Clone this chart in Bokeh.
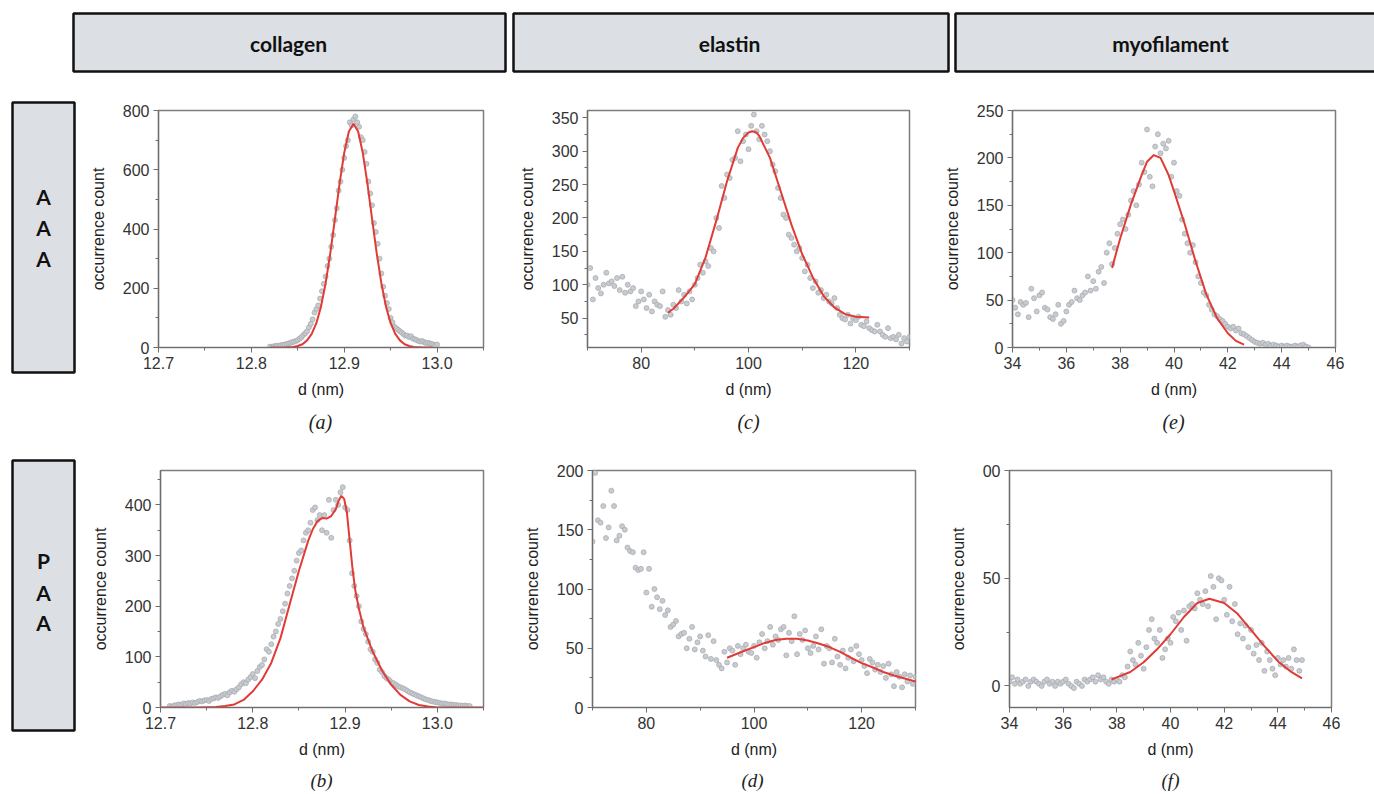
import numpy as np
from bokeh.plotting import figure
from bokeh.layouts import row, column
from bokeh.models import Range1d, FixedTicker, NumeralTickFormatter
from bokeh.core.properties import value
from bokeh.embed import file_html
from bokeh.resources import INLINE

# ---------------- labels ----------------
column_labels = ["collagen", "elastin", "myofilament"]
row_labels = [["A", "A", "A"], ["P", "A", "A"]]
panel_labels = [["(a)", "(c)", "(e)"], ["(b)", "(d)", "(f)"]]
x_title = "d (nm)"
y_title = "occurrence count"

# ---------------- (a) collagen AAA ----------------
a_x0, a_dx = 12.820, 0.002
a_y = [3, 2, 4, 5, 6, 5, 8, 9, 10, 12,
       14, 15, 18, 20, 22, 25, 30, 35, 42, 48,
       55, 68, 80, 95, 118, 130, 142, 165, 190, 215,
       240, 275, 300, 340, 380, 430, 470, 530, 560, 600,
       640, 680, 700, 760, 750, 770, 780, 760, 745, 710,
       700, 660, 620, 560, 520, 480, 420, 390, 350, 300,
       250, 205, 175, 150, 130, 100, 85, 70, 65, 60,
       55, 50, 45, 40, 40, 35, 38, 30, 28, 25,
       22, 20, 22, 18, 15, 16, 14, 12, 10, 8,
       10]
a_cx = [12.820, 12.825, 12.830, 12.835, 12.840, 12.845, 12.850, 12.855, 12.860, 12.865,
        12.870, 12.875, 12.880, 12.885, 12.890, 12.895, 12.900, 12.905, 12.910, 12.915,
        12.920, 12.925, 12.930, 12.935, 12.940, 12.945, 12.950, 12.955, 12.960, 12.965,
        12.970, 12.975, 12.980, 12.985, 12.990, 12.995]
a_cy = [0, 0, 0, 0, 1, 2, 5, 11, 24, 46,
        82, 138, 217, 318, 434, 553, 657, 729, 755, 729,
        657, 553, 434, 318, 217, 138, 82, 46, 24, 11,
        5, 2, 1, 0, 0, 0]

# ---------------- (b) collagen PAA ----------------
b_x0, b_dx = 12.710, 0.0025
b_y = [3, 2, 4, 5, 6, 5, 8, 7, 9, 8,
       10, 9, 11, 13, 12, 14, 15, 13, 17, 18,
       20, 19, 22, 25, 27, 24, 30, 33, 31, 36,
       40, 46, 50, 48, 55, 60, 66, 58, 72, 80,
       84, 95, 115, 110, 125, 140, 150, 165, 175, 190,
       205, 225, 240, 255, 270, 290, 305, 310, 330, 345,
       350, 365, 390, 395, 370, 380, 350, 380, 345, 410,
       335, 390, 410, 400, 425, 435, 395, 390, 330, 265,
       240, 220, 200, 170, 155, 145, 130, 115, 110, 95,
       88, 75, 70, 62, 58, 55, 50, 48, 45, 42,
       40, 38, 36, 33, 30, 28, 26, 24, 22, 20,
       18, 16, 15, 13, 12, 11, 10, 9, 8, 8,
       7, 6, 6, 5, 5, 4, 4, 3, 4, 3,
       3]
b_cx = [12.70, 12.72, 12.74, 12.76, 12.77, 12.78, 12.79, 12.80, 12.81, 12.82,
        12.83, 12.84, 12.85, 12.86, 12.865, 12.87, 12.875, 12.88, 12.885, 12.89,
        12.893, 12.896, 12.899, 12.902, 12.905, 12.908, 12.911, 12.915, 12.92, 12.93,
        12.94, 12.95, 12.96, 12.97, 12.98, 12.99, 13.00, 13.05]
b_cy = [0, 0, 0, 1, 3, 6, 15, 32, 55, 88,
        137, 204, 270, 329, 352, 368, 374, 373, 378, 392,
        408, 418, 412, 385, 330, 275, 232, 195, 158, 110,
        73, 45, 25, 12, 5, 2, 0, 0]

# ---------------- (c) elastin AAA ----------------
c_x0, c_dx = 70.0, 0.5
c_y = [100, 125, 78, 110, 95, 87, 100, 118, 102, 105,
       98, 110, 92, 112, 88, 100, 90, 95, 68, 75,
       90, 78, 65, 85, 60, 75, 70, 68, 90, 52,
       62, 55, 70, 65, 92, 75, 85, 72, 90, 78,
       100, 110, 130, 118, 135, 128, 155, 150, 200, 185,
       248, 230, 265, 260, 287, 290, 330, 285, 315, 325,
       303, 338, 355, 330, 318, 338, 325, 315, 300, 280,
       270, 245, 230, 205, 200, 175, 170, 160, 150, 155,
       140, 120, 130, 110, 95, 105, 88, 92, 80, 85,
       75, 72, 80, 65, 55, 50, 48, 55, 42, 50,
       47, 52, 40, 38, 45, 35, 32, 30, 40, 30,
       25, 22, 35, 20, 22, 18, 25, 12, 20, 15,
       22]
c_cx = [85, 86, 88, 90, 92, 94, 96, 98, 99, 100, 100.7, 101.5,
        102, 104, 106, 108, 110, 112, 114, 116, 118, 120, 122.5]
c_cy = [58, 64, 81, 101, 141, 196, 255, 305, 320, 328, 330, 328,
        323, 290, 240, 190, 146, 111, 83, 66, 56, 52, 51]

# ---------------- (d) elastin PAA ----------------
d_x0, d_dx = 70.0, 0.5
d_y = [140, 198, 158, 156, 170, 143, 152, 183, 170, 141,
       145, 153, 150, 135, 132, 131, 118, 116, 117, 131,
       97, 117, 85, 100, 93, 83, 90, 78, 82, 68,
       70, 73, 60, 62, 63, 50, 58, 68, 49, 55,
       60, 48, 43, 61, 41, 56, 40, 36, 33, 47,
       38, 50, 48, 36, 52, 45, 50, 53, 47, 46,
       52, 42, 55, 62, 50, 56, 68, 53, 60, 57,
       66, 68, 44, 63, 56, 77, 45, 62, 57, 65,
       50, 46, 52, 60, 49, 66, 37, 52, 50, 38,
       58, 43, 36, 48, 33, 42, 49, 39, 52, 45,
       40, 35, 29, 41, 38, 32, 36, 30, 35, 25,
       37, 28, 18, 30, 26, 17, 28, 22, 27, 20,
       26]
d_cx = [95, 98, 100, 102, 104, 106, 108, 110, 112, 114, 116, 118, 120, 122, 124, 126, 128, 130]
d_cy = [42, 47.5, 51, 54.5, 57, 58, 58, 56.5, 54, 51, 47, 42, 37.5, 34, 30, 27, 24.5, 22]

# ---------------- (e) myofilament AAA ----------------
e_x0, e_dx = 34.0, 0.1
e_y = [50, 42, 35, 48, 45, 47, 32, 62, 52, 38,
       55, 58, 42, 40, 32, 30, 35, 45, 25, 28,
       38, 45, 48, 60, 52, 50, 55, 58, 75, 60,
       70, 62, 80, 85, 68, 100, 110, 88, 105, 120,
       130, 135, 125, 140, 155, 165, 150, 172, 195, 185,
       230, 180, 170, 212, 225, 205, 215, 210, 218, 180,
       195, 165, 160, 135, 120, 110, 100, 108, 90, 75,
       68, 58, 55, 45, 40, 35, 33, 30, 28, 25,
       22, 20, 22, 18, 20, 15, 14, 12, 10, 8,
       6, 5, 4, 5, 3, 4, 2, 3, 2, 1,
       2, 1, 2, 1, 1, 2, 1, 2, 3, 1,
       0]
e_cx = [37.7, 38.0, 38.4, 38.8, 39.0, 39.25, 39.5, 39.8, 40.0, 40.4, 40.8, 41.2, 41.6, 42.0, 42.3, 42.6]
e_cy = [84, 115, 151, 182, 196, 203, 200, 182, 165, 130, 91, 56, 31, 15, 7, 3]

# ---------------- (f) myofilament PAA ----------------
f_x0, f_dx = 34.0, 0.1
f_y = [2, 4, 1, 3, 1, 2, 3, 0, 2, 3,
       2, 1, 0, 2, 3, 1, 2, 0, 2, 1,
       2, 3, 1, 0, -1, 2, 1, 0, 3, 2,
       3, 4, 2, 5, 3, 4, 2, 1, 3, 2,
       3, 2, 5, 4, 9, 16, 12, 10, 20, 14,
       8, 18, 26, 31, 22, 20, 26, 13, 17, 22,
       20, 32, 30, 34, 26, 35, 21, 37, 38, 36,
       43, 40, 38, 44, 37, 51, 46, 31, 50, 49,
       40, 33, 46, 30, 38, 24, 29, 22, 28, 18,
       26, 15, 19, 12, 20, 7, 16, 12, 8, 5,
       13, 10, 12, 9, 13, 8, 17, 12, 7, 12]
f_cx = [37.8, 38.0, 38.5, 39.0, 39.5, 40.0, 40.5, 41.0, 41.45, 42.0, 42.5, 43.0, 43.5, 44.0, 44.5, 44.9]
f_cy = [3, 4, 6.5, 11, 17, 24, 32, 38.5, 40.5, 38.5, 33.5, 26, 18.5, 11.5, 6.5, 3.5]

# ---------------- ticks ----------------
col_xticks = [12.7, 12.8, 12.9, 13.0]
col_xminor = [12.75, 12.85, 12.95, 13.05]
ela_xticks = [80, 100, 120]
ela_xminor = [70, 90, 110, 130]
myo_xticks = [34, 36, 38, 40, 42, 44, 46]
myo_xminor = [35, 37, 39, 41, 43, 45]

a_yticks, a_yminor = [0, 200, 400, 600, 800], [100, 300, 500, 700]
b_yticks, b_yminor = [0, 100, 200, 300, 400], [50, 150, 250, 350, 450]
c_yticks, c_yminor = [50, 100, 150, 200, 250, 300, 350], [25, 75, 125, 175, 225, 275, 325]
d_yticks, d_yminor = [0, 50, 100, 150, 200], [25, 75, 125, 175]
e_yticks, e_yminor = [0, 50, 100, 150, 200, 250], [25, 75, 125, 175, 225]
f_yticks, f_yminor = [0, 50, 100], [25, 75]
f_label_overrides = {100: "00"}

SANS = "Liberation Sans"
AX = "#6e6e6e"
FS = "16px"


def bins(x0, dx, ys):
    return list(np.round(x0 + dx * np.arange(len(ys)), 4))


def panel(xs, ys, cx, cy, xr, yr, xt, xm, yt, ym, w, h, mb, overrides=None, xfmt=None):
    p = figure(width=w, height=h, x_range=Range1d(*xr), y_range=Range1d(*yr),
               output_backend="svg", toolbar_location=None,
               min_border_left=mb[0], min_border_right=mb[1],
               min_border_top=mb[2], min_border_bottom=mb[3])
    p.grid.visible = False
    p.outline_line_color = "#7d7d7d"
    p.outline_line_width = 1.5
    p.background_fill_color = "white"
    p.border_fill_color = "white"
    p.scatter(xs, ys, size=5, fill_color="#c8ccd1", line_color="#a3a8ad", line_width=0.7)
    p.line(cx, cy, line_color="#e23a35", line_width=2)
    p.xaxis.ticker = FixedTicker(ticks=xt, minor_ticks=xm)
    p.yaxis.ticker = FixedTicker(ticks=yt, minor_ticks=ym)
    if xfmt:
        p.xaxis.formatter = NumeralTickFormatter(format=xfmt)
    p.xaxis.axis_label = x_title
    p.yaxis.axis_label = y_title
    for ax in (p.xaxis, p.yaxis):
        ax.axis_line_color = AX
        ax.axis_line_width = 1.2
        ax.major_tick_line_color = AX
        ax.minor_tick_line_color = AX
        ax.major_tick_in = 0
        ax.major_tick_out = 5
        ax.minor_tick_in = 0
        ax.minor_tick_out = 3
        ax.major_label_text_font = SANS
        ax.major_label_text_font_size = FS
        ax.major_label_text_color = "#333333"
        ax.axis_label_text_font = SANS
        ax.axis_label_text_font_size = FS
        ax.axis_label_text_font_style = "normal"
        ax.axis_label_text_color = "#222222"
    p.xaxis.major_label_standoff = 4
    p.xaxis.axis_label_standoff = 9
    p.yaxis.major_label_standoff = 4
    p.yaxis.axis_label_standoff = 13
    if overrides:
        p.yaxis.major_label_overrides = overrides
    return p


def deco(w, h):
    p = figure(width=w, height=h, x_range=Range1d(0, w), y_range=Range1d(h, 0),
               output_backend="svg", toolbar_location=None, min_border=0,
               x_axis_location=None, y_axis_location=None)
    p.grid.visible = False
    p.outline_line_color = None
    p.background_fill_color = "white"
    p.border_fill_color = "white"
    return p


BOX_FILL = "#dcdfe3"
BOX_LINE = "#111111"
HH = 90   # header height (page y 0..90)
LW = 76   # left strip width (page x 0..76)

# header with column labels, full page width
hdr = deco(1374, HH)
hdr.quad(left=[73, 513, 955], right=[505, 948, 1385], top=[13, 13, 13], bottom=[71, 71, 71],
         fill_color=BOX_FILL, line_color=BOX_LINE, line_width=2.5)
hdr.text(x=[288, 729, 1170], y=[43, 43, 43], text=column_labels, text_align="center",
         text_baseline="middle", text_font=value("Lato"), text_font_style="bold",
         text_font_size="21px", text_color=BOX_LINE)

# left strip with row labels (page y 90..794)
left = deco(LW, 794 - HH)
left.quad(left=[12, 12], right=[74, 74], top=[102 - HH, 460 - HH], bottom=[372 - HH, 730 - HH],
          fill_color=BOX_FILL, line_color=BOX_LINE, line_width=2.5)
left.text(x=[43, 43, 43], y=[196 - HH, 227 - HH, 258 - HH], text=row_labels[0], text_align="center",
          text_baseline="middle", text_font=value("Lato"), text_font_style="bold",
          text_font_size="21px", text_color=BOX_LINE)
left.text(x=[43, 43, 43], y=[560 - HH, 592 - HH, 622 - HH], text=row_labels[1], text_align="center",
          text_baseline="middle", text_font=value("Lato"), text_font_style="bold",
          text_font_size="21px", text_color=BOX_LINE)

RW = 1374 - LW
PH = 315
pa = panel(bins(a_x0, a_dx, a_y), a_y, a_cx, a_cy, (12.7, 13.05), (0, 800),
           col_xticks, col_xminor, a_yticks, a_yminor, 429, PH, (82, 22, 20, 58), xfmt="0.0")
pc = panel(bins(c_x0, c_dx, c_y), c_y, c_cx, c_cy, (70, 130), (6, 361),
           ela_xticks, ela_xminor, c_yticks, c_yminor, 430, PH, (82, 26, 20, 58))
pe = panel(bins(e_x0, e_dx, e_y), e_y, e_cx, e_cy, (34, 46), (0, 250),
           myo_xticks, myo_xminor, e_yticks, e_yminor, 439, PH, (77, 39, 20, 58))

pb = panel(bins(b_x0, b_dx, b_y), b_y, b_cx, b_cy, (12.7, 13.05), (0, 468),
           col_xticks, col_xminor, b_yticks, b_yminor, 429, PH, (84, 22, 20, 58), xfmt="0.0")
pd = panel(bins(d_x0, d_dx, d_y), d_y, d_cx, d_cy, (70, 130), (0, 200),
           ela_xticks, ela_xminor, d_yticks, d_yminor, 430, PH, (87, 20, 20, 58))
pf = panel(bins(f_x0, f_dx, f_y), f_y, f_cx, f_cy, (34, 46), (-10, 100),
           myo_xticks, myo_xminor, f_yticks, f_yminor, 439, PH, (74, 43, 20, 58),
           overrides=f_label_overrides)

# strips holding the panel letters
strip1 = deco(RW, 45)   # page y 405..450
strip1.text(x=[320 - LW, 748 - LW, 1173 - LW], y=[16, 16, 16], text=panel_labels[0],
            text_align="center", text_baseline="middle", text_font=value("Liberation Serif"),
            text_font_style="italic", text_font_size="20px", text_color="#222222")
strip2 = deco(RW, 29)   # page y 765..794
strip2.text(x=[321 - LW, 752 - LW, 1170 - LW], y=[15, 15, 15], text=panel_labels[1],
            text_align="center", text_baseline="middle", text_font=value("Liberation Serif"),
            text_font_style="italic", text_font_size="19px", text_color="#222222")

right = column(row(pa, pc, pe, spacing=0), strip1, row(pb, pd, pf, spacing=0), strip2,
               spacing=0)
layout = column(hdr, row(left, right, spacing=0), spacing=0)

open("out.html", "w").write(file_html(layout, INLINE))
